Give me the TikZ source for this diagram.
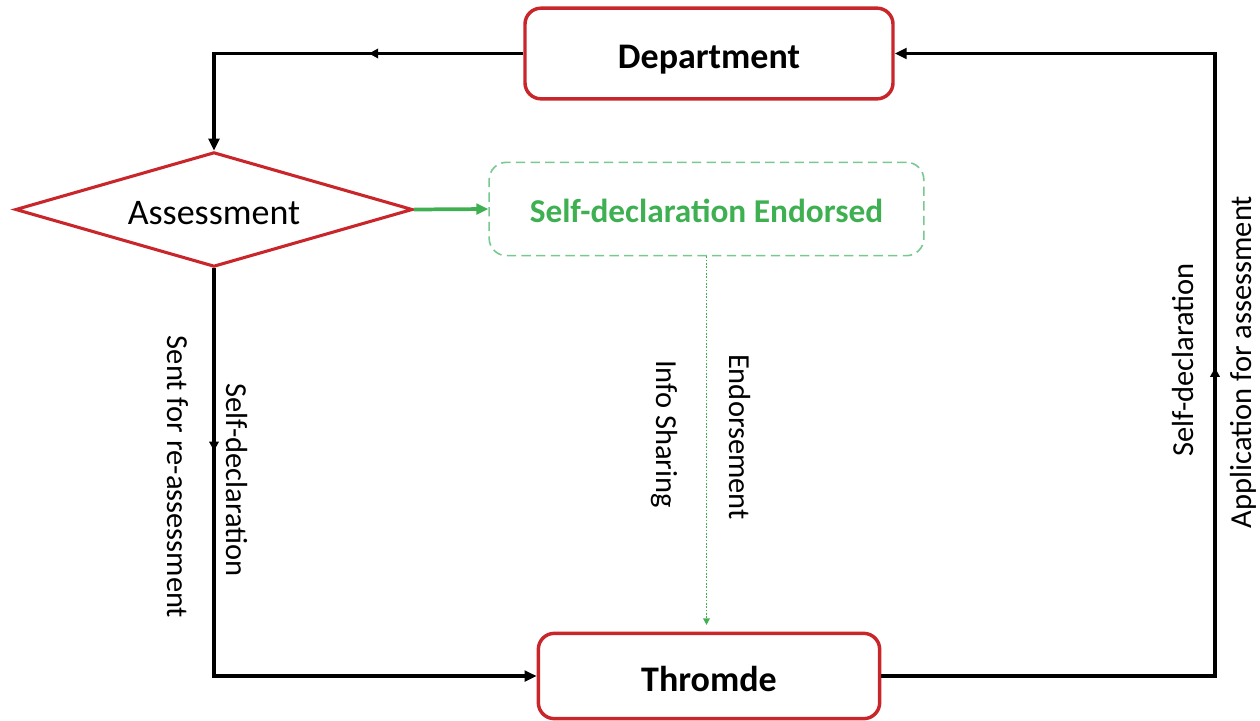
\documentclass[tikz,border=0pt]{standalone}
\usepackage{fontspec}
\setmainfont{Carlito}
\usetikzlibrary{shapes.geometric,arrows.meta,decorations.markings}
\definecolor{boxred}{RGB}{200,38,42}
\definecolor{grtext}{RGB}{62,176,82}
\definecolor{grline}{RGB}{120,200,145}
\tikzset{
  box/.style={draw=boxred, line width=2.6pt, rounded corners=12pt, font=\fontsize{27}{32}\selectfont\bfseries, inner sep=0pt, text height=23pt, text depth=0pt},
  conn/.style={draw=black, line width=2.5pt, -{Triangle[length=9pt,width=8pt]}},
  midarrow/.style={postaction={decorate}, decoration={markings, mark=at position #1 with {\arrow{Triangle[length=7pt,width=7pt]}}}},
  lbl/.style={font=\fontsize{22.9}{27}\selectfont, inner sep=0pt},
}
\begin{document}
\begin{tikzpicture}[x=0.75pt,y=-0.75pt]
\useasboundingbox (0,0) rectangle (1260,721);
\node[box, minimum width=276pt, minimum height=68pt] (dep) at (709,53.5) {Department};
\node[box, minimum width=256pt, minimum height=64pt] (thr) at (709,676) {Thromde};
\node[draw=grline, dashed, dash pattern=on 7pt off 4pt, line width=1.2pt, rounded corners=13pt, minimum width=326pt, minimum height=70pt, inner sep=0pt, text=grtext, font=\fontsize{25}{30}\selectfont\bfseries, text height=20pt, text depth=0pt] (end) at (706.5,209) {Self-declaration Endorsed};
\node[draw=boxred, line width=2.3pt, diamond, aspect=3.46, minimum width=298pt, minimum height=86pt, inner sep=0pt, font=\fontsize{27}{32}\selectfont, text height=22pt, text depth=0pt] (ass) at (214,209.5) {Assessment};
\coordinate (rc) at (1215,360);
\draw[conn, midarrow=0.38] (dep.west) -| (ass.north);
\draw[conn, midarrow=0.25] (ass.south) |- (thr.west);
\draw[draw=grtext, line width=2.8pt, -{Triangle[length=9pt,width=8pt]}] (ass.east) -- (end.west);
\draw[draw=grtext, line width=1.3pt, dash pattern=on 1.2pt off 1.3pt, shorten >=5pt, -{Triangle[length=5pt,width=5pt]}] (end.south) -- (end.south |- thr.north);
\draw[conn, midarrow=0.503] (thr.east) -| (rc) |- (dep.east);
\node[lbl, rotate=-90] (l1) at (178,477) {Sent for re-assessment};
\node[lbl, rotate=-90] (l2) at (237,480) {Self-declaration};
\node[lbl, rotate=-90] (l3) at (664,434) {Info Sharing};
\node[lbl, rotate=-90] (l4) at (740,437) {Endorsement};
\node[lbl, rotate=90] (l5) at (1183,360) {Self-declaration};
\node[lbl, rotate=90] (l6) at (1243,362) {Application for assessment};
\end{tikzpicture}
\end{document}
